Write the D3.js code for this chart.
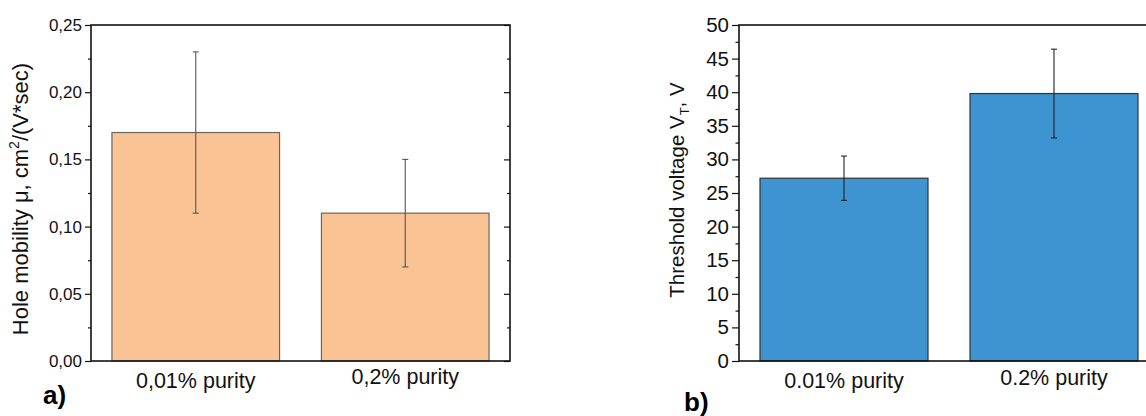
<!DOCTYPE html>
<html>
<head>
<meta charset="utf-8">
<title>Hole mobility and threshold voltage</title>
<script src="https://cdn.jsdelivr.net/npm/d3@7"></script>
<style>
  body { margin:0; background:#fff; }
  svg { display:block; font-family:"Liberation Sans", Arial, sans-serif; }
  .tick text { fill:#111; }
</style>
</head>
<body>
<div id="chart"></div>
<script>
// panel a) hole mobility
var catsA = ["0,01% purity", "0,2% purity"];
var mobility = [0.17, 0.11];
var mobilityErr = [0.06, 0.04];
var ticksA = [0, 0.05, 0.10, 0.15, 0.20, 0.25];
var tickLabelsA = ["0,00", "0,05", "0,10", "0,15", "0,20", "0,25"];

// panel b) threshold voltage
var catsB = ["0.01% purity", "0.2% purity"];
var voltage = [27.2, 39.8];
var voltageErr = [3.3, 6.6];
var ticksB = [0, 5, 10, 15, 20, 25, 30, 35, 40, 45, 50];

var W = 1146, H = 416;
var svg = d3.select("#chart").append("svg").attr("width", W).attr("height", H);

function panel(o) {
  var g = svg.append("g");
  var x = d3.scaleBand().domain(o.cats).range([o.left, o.right]).paddingInner(0.2).paddingOuter(0.1);
  var y = d3.scaleLinear().domain(o.domain).range([o.bottom, o.top]);

  // bars
  g.selectAll("rect.bar").data(o.values).enter().append("rect")
    .attr("class", "bar")
    .attr("x", function(d, i){ return x(o.cats[i]); })
    .attr("y", function(d){ return y(d); })
    .attr("width", x.bandwidth())
    .attr("height", function(d){ return y(0) - y(d); })
    .attr("fill", o.fill).attr("stroke", o.barStroke).attr("stroke-width", 1.2);

  // error bars
  var eb = g.selectAll("g.err").data(o.values).enter().append("g").attr("class", "err")
    .attr("stroke", o.errColor).attr("stroke-width", 1.1);
  eb.append("line")
    .attr("x1", function(d, i){ return x(o.cats[i]) + x.bandwidth()/2; })
    .attr("x2", function(d, i){ return x(o.cats[i]) + x.bandwidth()/2; })
    .attr("y1", function(d, i){ return y(d + o.err[i]); })
    .attr("y2", function(d, i){ return y(d - o.err[i]); });
  [1, -1].forEach(function(s){
    eb.append("line")
      .attr("x1", function(d, i){ return x(o.cats[i]) + x.bandwidth()/2 - 3; })
      .attr("x2", function(d, i){ return x(o.cats[i]) + x.bandwidth()/2 + 3; })
      .attr("y1", function(d, i){ return y(d + s*o.err[i]); })
      .attr("y2", function(d, i){ return y(d + s*o.err[i]); });
  });

  // minor ticks (halfway between majors)
  var minor = [];
  for (var i = 0; i < o.ticks.length - 1; i++) minor.push((o.ticks[i] + o.ticks[i+1]) / 2);

  var left = g.append("g").attr("transform", "translate(" + o.left + ",0)")
    .call(d3.axisLeft(y).tickValues(o.ticks).tickSize(o.major).tickPadding(3)
      .tickFormat(function(d, i){ return o.labels[i]; }));
  left.selectAll("text").attr("font-size", o.tickFont);
  g.append("g").attr("transform", "translate(" + o.left + ",0)")
    .call(d3.axisLeft(y).tickValues(minor).tickSize(o.major/2).tickFormat(""));

  g.append("g").attr("transform", "translate(" + o.right + ",0)")
    .call(d3.axisRight(y).tickValues(o.ticks).tickSize(-o.major).tickFormat(""));
  g.append("g").attr("transform", "translate(" + o.right + ",0)")
    .call(d3.axisRight(y).tickValues(minor).tickSize(-o.major/2).tickFormat(""));

  g.selectAll(".domain").remove();
  g.selectAll(".tick line").attr("stroke", "#111").attr("stroke-width", 1.2);

  // frame
  g.append("rect").attr("x", o.left).attr("y", o.top)
    .attr("width", o.right - o.left).attr("height", o.bottom - o.top)
    .attr("fill", "none").attr("stroke", "#111").attr("stroke-width", 1.6);

  // category labels
  g.selectAll("text.cat").data(o.cats).enter().append("text")
    .attr("class", "cat")
    .attr("x", function(d){ return x(d) + x.bandwidth()/2; })
    .attr("y", function(d, i){ return o.catY[i]; })
    .attr("text-anchor", "middle").attr("font-size", o.catFont).attr("fill", "#111")
    .text(function(d){ return d; });

  return g;
}

var gA = panel({
  cats: catsA, values: mobility, err: mobilityErr, domain: [0, 0.25],
  ticks: ticksA, labels: tickLabelsA,
  left: 91, right: 510, top: 25, bottom: 361,
  fill: "#f9c394", barStroke: "#666", errColor: "#555",
  major: 6, tickFont: 17, catFont: 21.5, catY: [388, 384]
});

var gB = panel({
  cats: catsB, values: voltage, err: voltageErr, domain: [0, 50],
  ticks: ticksB, labels: ticksB.map(String),
  left: 739, right: 1159, top: 25, bottom: 361,
  fill: "#3d94d0", barStroke: "#333", errColor: "#222",
  major: 7, tickFont: 20.5, catFont: 21.5, catY: [388, 385]
});

// axis titles
var tA = svg.append("text").attr("transform", "translate(28,199) rotate(-90)")
  .attr("text-anchor", "middle").attr("font-size", 22).attr("fill", "#111");
tA.append("tspan").text("Hole mobility \u03bc, cm");
tA.append("tspan").attr("font-size", 14).attr("dy", -9).text("2");
tA.append("tspan").attr("dy", 9).text("/(V*sec)");

var tB = svg.append("text").attr("transform", "translate(684,190) rotate(-90)")
  .attr("text-anchor", "middle").attr("font-size", 20.5).attr("fill", "#111");
tB.append("tspan").text("Threshold voltage V");
tB.append("tspan").attr("font-size", 13).attr("dy", 5).text("T");
tB.append("tspan").attr("dy", -5).text(", V");

// panel letters
svg.append("text").attr("x", 43).attr("y", 404).attr("font-size", 26).attr("font-weight", "bold").text("a)");
svg.append("text").attr("x", 684).attr("y", 411).attr("font-size", 26).attr("font-weight", "bold").text("b)");
</script>
</body>
</html>
